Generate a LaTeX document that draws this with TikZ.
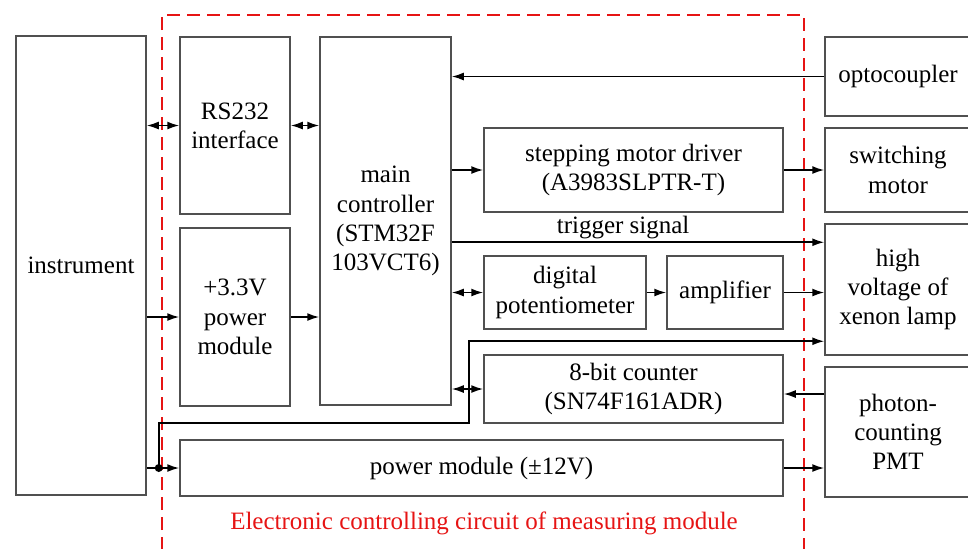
\documentclass[tikz,border=0pt]{standalone}
\usepackage{fontspec}
\setmainfont{LiberationSerif}[Extension=.ttf, UprightFont=*-Regular, BoldFont=*-Bold]
\usetikzlibrary{arrows.meta}

\definecolor{boxgray}{RGB}{80,80,80}
\definecolor{framered}{RGB}{230,20,20}

\tikzset{
  blk/.style={draw=boxgray, line width=0.75pt, align=center, inner sep=0pt,
    font=\fontsize{12.5}{14.6}\selectfont},
  arr/.style={-{Latex[length=6pt,width=4pt]}, line width=0.85pt},
  dbl/.style={{Latex[length=6pt,width=4pt]}-{Latex[length=6pt,width=4pt]}, line width=0.85pt},
  frame/.style={draw=framered, line width=1pt, dash pattern=on 6.5pt off 3.5pt},
}

\begin{document}
\begin{tikzpicture}[x=0.5pt, y=-0.5pt]
  \clip (0,0) rectangle (968,548);

  % left side
  \node[blk, minimum width=65pt, minimum height=229.5pt] (instr) at (81,265.5) {instrument};

  % measuring module circuit
  \draw[frame] (162,570) -- (162,15) -- (804,15) -- (804,570);
  \node[text=framered, font=\fontsize{12.5}{14.6}\selectfont] (title) at (484,523)
    {Electronic controlling circuit of measuring module};

  \node[blk, minimum width=55pt, minimum height=88.5pt] (rs) at (235,125.5) {RS232\\interface};
  \node[blk, minimum width=55pt, minimum height=89pt] (pw33) at (235,317) {+3.3V\\power\\module};
  \node[blk, minimum width=65.5pt, minimum height=184pt] (mcu) at (385.5,221)
    {main\\controller\\(STM32F\\103VCT6)};
  \node[blk, minimum width=149.5pt, minimum height=42pt] (step) at (633.5,170)
    {stepping motor driver\\(A3983SLPTR-T)};
  \node[blk, minimum width=81pt, minimum height=36.5pt] (pot) at (565,292.5)
    {digital\\potentiometer};
  \node[blk, minimum width=58pt, minimum height=36.5pt] (amp) at (725,292.5) {amplifier};
  \node[blk, minimum width=149.5pt, minimum height=34pt] (cnt) at (633.5,389)
    {8-bit counter\\(SN74F161ADR)};
  \node[blk, minimum width=301.5pt, minimum height=28pt] (pw12) at (481.5,468)
    {power module (±12V)};

  % right side
  \node[blk, minimum width=73pt, minimum height=39.5pt] (opto) at (898,76.5) {optocoupler};
  \node[blk, minimum width=73pt, minimum height=42pt] (motor) at (898,170) {switching\\motor};
  \node[blk, minimum width=73pt, minimum height=65.5pt] (hv) at (898,289.5)
    {high\\voltage of\\xenon lamp};
  \node[blk, minimum width=73pt, minimum height=65pt] (pmt) at (898,432)
    {photon-\\counting\\PMT};

  % connections
  \draw[dbl] (rs.west -| instr.east) -- (rs.west);
  \draw[dbl] (rs.east) -- (rs.east -| mcu.west);
  \draw[arr] (pw33.west -| instr.east) -- (pw33.west);
  \draw[arr] (pw33.east) -- (pw33.east -| mcu.west);
  \draw[arr] (opto.west) -- (opto.west -| mcu.east);
  \draw[arr] (step.west -| mcu.east) -- (step.west);
  \draw[arr] (step.east) -- (motor.west);

  \coordinate (trg) at ([yshift=-9.5pt]hv.north west);
  \draw[arr] (trg -| mcu.east) -- node[pos=0.46, above, inner sep=1.5pt,
    font=\fontsize{12.5}{14.6}\selectfont] {trigger signal} (trg);

  \draw[dbl] (pot.west -| mcu.east) -- (pot.west);
  \draw[arr] (pot.east) -- (amp.west);
  \draw[arr] (amp.east) -- (amp.east -| hv.west);
  \draw[dbl] (cnt.west -| mcu.east) -- (cnt.west);

  \coordinate (cntin) at ([yshift=-2.5pt]cnt.east);
  \draw[arr] (cntin -| pmt.west) -- (cntin);
  \draw[arr] (pw12.east) -- (pw12.east -| pmt.west);
  \draw[arr] (pw12.west -| instr.east) -- (pw12.west);

  % branch to lamp supply
  \coordinate (jn) at ([xshift=6pt]pw12.west -| instr.east);
  \coordinate (bend) at (469,423);
  \coordinate (lamp) at ([yshift=-59pt]hv.north west);
  \draw[arr] (jn) |- (bend) |- (lamp);
  \fill (jn) circle (2pt);
\end{tikzpicture}
\end{document}
